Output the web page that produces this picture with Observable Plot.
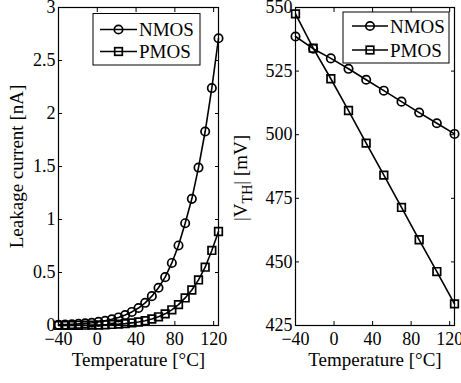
<!DOCTYPE html>
<html>
<head>
<meta charset="utf-8">
<script src="https://cdn.jsdelivr.net/npm/d3@7"></script>
<script src="https://cdn.jsdelivr.net/npm/@observablehq/plot@0.6"></script>
<style>
  body { margin: 0; background: white; }
  #wrap { position: relative; width: 461px; height: 383px; overflow: hidden; background: white; }
  #wrap svg { position: absolute; top: 0; overflow: visible; }
</style>
</head>
<body>
<div id="wrap"></div>
<script>
// ---- Data ----
const leakTemps = [-40, -33.125, -26.25, -19.375, -12.5, -5.625, 1.25, 8.125, 15, 21.875, 28.75, 35.625, 42.5, 49.375, 56.25, 63.125, 70, 76.875, 83.75, 90.625, 97.5, 104.375, 111.25, 118.125, 125];
const leakNMOS = [0.007, 0.009, 0.012, 0.015, 0.020, 0.026, 0.034, 0.045, 0.058, 0.076, 0.099, 0.128, 0.165, 0.214, 0.277, 0.356, 0.456, 0.59, 0.755, 0.965, 1.195, 1.49, 1.83, 2.24, 2.71];
const leakPMOS = [0.0008, 0.001, 0.0015, 0.002, 0.003, 0.004, 0.005, 0.007, 0.010, 0.013, 0.018, 0.025, 0.033, 0.045, 0.061, 0.082, 0.11, 0.148, 0.197, 0.26, 0.335, 0.43, 0.55, 0.708, 0.887];

const vthTemps = [-40, -21.67, -3.33, 15, 33.33, 51.67, 70, 88.33, 106.67, 125];
const vthNMOS = [538.6, 533.8, 530.0, 525.9, 521.6, 517.3, 513.0, 508.7, 504.5, 500.3];
const vthPMOS = [547.5, 534.0, 522.0, 509.5, 496.7, 484.1, 471.4, 458.7, 446.2, 433.5];

const xTicks = [-40, 0, 40, 80, 120];
const leakTicks = [0, 0.5, 1, 1.5, 2, 2.5, 3];
const vthTicks = [425, 450, 475, 500, 525, 550];
const seriesNames = ["NMOS", "PMOS"];

// ---- Helpers ----
const FONT = "'Liberation Serif', 'Times New Roman', Times, serif";
const fmtX = d => d < 0 ? "\u2212" + (-d) : String(d);
const toRows = (xs, ys) => xs.map((x, i) => ({x, y: ys[i]}));

function boxAxes(yTicks, yFmt) {
  return [
    Plot.axisX({ticks: xTicks, tickSize: -4, tickPadding: 11, tickFormat: fmtX, fontSize: 18, label: null}),
    Plot.axisX({anchor: "top", ticks: xTicks, tickSize: -4, tickFormat: () => "", label: null}),
    Plot.axisY({ticks: yTicks, tickSize: -4, tickPadding: 7, tickFormat: yFmt, fontSize: 18, label: null}),
    Plot.axisY({anchor: "right", ticks: yTicks, tickSize: -4, tickFormat: () => "", label: null}),
    Plot.frame({stroke: "black", strokeWidth: 1.2})
  ];
}

function seriesMarks(xs, n, p) {
  const a = toRows(xs, n), b = toRows(xs, p);
  return [
    Plot.line(a, {x: "x", y: "y", stroke: "black", strokeWidth: 1.6}),
    Plot.dot(a, {x: "x", y: "y", r: 4.2, stroke: "black", strokeWidth: 1.7, fill: "none"}),
    Plot.line(b, {x: "x", y: "y", stroke: "black", strokeWidth: 1.6}),
    Plot.dot(b, {x: "x", y: "y", symbol: "square", r: 4.3, stroke: "black", strokeWidth: 1.7, fill: "none"})
  ];
}

function legend(svg, bx, by, bw, bh, rows, lx1, lx2, tx) {
  const g = d3.select(svg).append("g").attr("text-anchor", "start");
  g.append("rect").attr("x", bx).attr("y", by).attr("width", bw).attr("height", bh)
    .attr("fill", "white").attr("stroke", "black").attr("stroke-width", 1);
  seriesNames.forEach((name, i) => {
    const y = rows[i], mx = (lx1 + lx2) / 2;
    g.append("line").attr("x1", lx1).attr("x2", lx2).attr("y1", y).attr("y2", y)
      .attr("stroke", "black").attr("stroke-width", 1.6);
    if (i === 0) {
      g.append("circle").attr("cx", mx).attr("cy", y).attr("r", 4.2)
        .attr("fill", "none").attr("stroke", "black").attr("stroke-width", 1.7);
    } else {
      g.append("rect").attr("x", mx - 3.8).attr("y", y - 3.8).attr("width", 7.6).attr("height", 7.6)
        .attr("fill", "none").attr("stroke", "black").attr("stroke-width", 1.7);
    }
    g.append("text").attr("x", tx).attr("y", y + 6.5).attr("text-anchor", "start").text(name)
      .style("font-family", FONT).attr("font-size", 19).attr("fill", "black");
  });
}

const wrap = document.getElementById("wrap");

// ---- Left panel: leakage current ----
const p1 = Plot.plot({
  width: 230, height: 383,
  marginLeft: 58, marginRight: 12, marginTop: 7, marginBottom: 58,
  style: {fontFamily: FONT, fontSize: "18px", background: "transparent", color: "black"},
  x: {domain: [-40, 125]},
  y: {domain: [0, 3]},
  marks: [
    ...seriesMarks(leakTemps, leakNMOS, leakPMOS),
    ...boxAxes(leakTicks, d => String(d)),
    Plot.text(["Temperature [\u00B0C]"], {frameAnchor: "bottom", textAnchor: "middle", lineAnchor: "bottom", dy: 40, fontSize: 19, fill: "black"}),
    Plot.text(["Leakage current [nA]"], {frameAnchor: "left", textAnchor: "middle", lineAnchor: "bottom", rotate: -90, dx: -36, fontSize: 19, fill: "black"})
  ]
});
p1.style.left = "0px";
wrap.appendChild(p1);
legend(p1, 93, 13.5, 107, 51.5, [29.5, 51.5], 100, 137, 139);

// ---- Right panel: threshold voltage ----
const p2 = Plot.plot({
  width: 231, height: 383,
  marginLeft: 65, marginRight: 7, marginTop: 7, marginBottom: 58,
  style: {fontFamily: FONT, fontSize: "18px", background: "transparent", color: "black"},
  x: {domain: [-40, 125]},
  y: {domain: [425, 550]},
  marks: [
    ...seriesMarks(vthTemps, vthNMOS, vthPMOS),
    ...boxAxes(vthTicks, d => String(d)),
    Plot.text(["Temperature [\u00B0C]"], {frameAnchor: "bottom", textAnchor: "middle", lineAnchor: "bottom", dy: 40, fontSize: 19, fill: "black"})
  ]
});
p2.style.left = "230px";
wrap.appendChild(p2);
legend(p2, 113, 12, 106, 51, [26, 50], 122, 158, 160);

// y label with subscript
const yl = d3.select(p2).append("text")
  .attr("transform", "translate(17,178) rotate(-90)")
  .attr("text-anchor", "middle")
  .style("font-family", FONT).attr("font-size", 19).attr("fill", "black");
yl.append("tspan").text("|V");
yl.append("tspan").attr("dy", 5).attr("font-size", 14).text("TH");
yl.append("tspan").attr("dy", -5).text("| [mV]");
</script>
</body>
</html>
